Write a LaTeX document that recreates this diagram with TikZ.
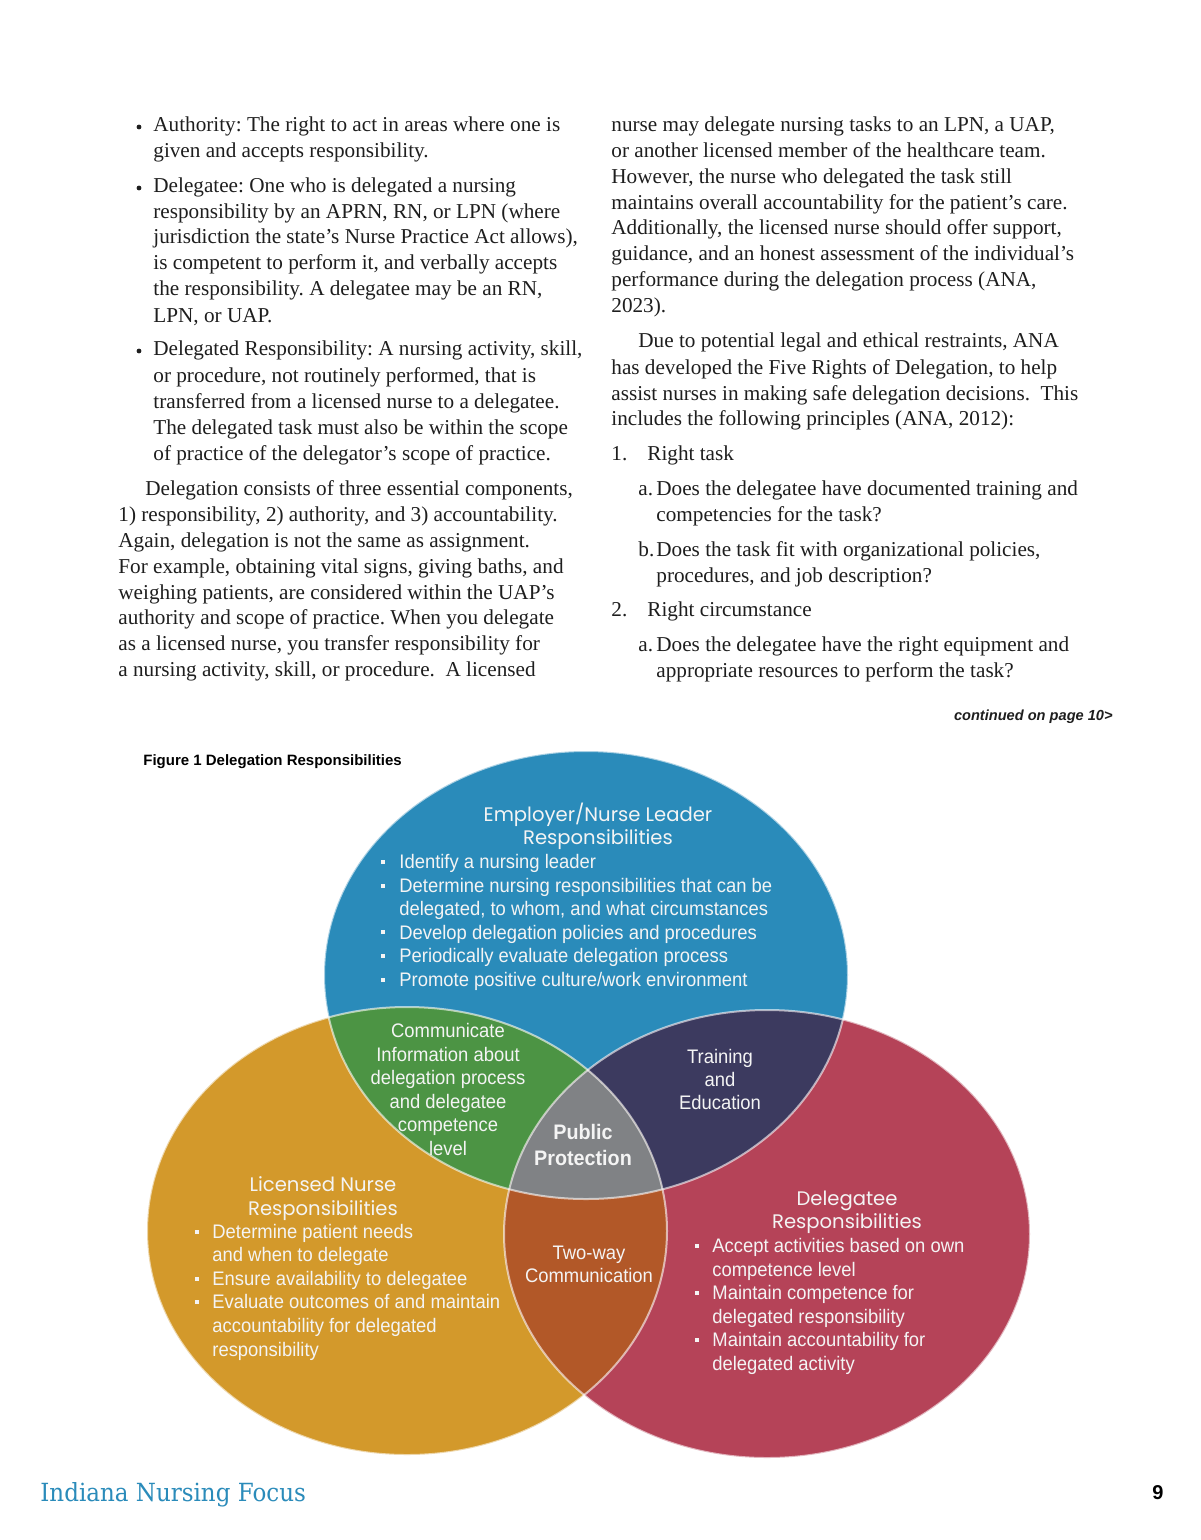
\documentclass[tikz,border=0pt]{standalone}
\usepackage{fontspec}
\setmainfont{Liberation Serif}
\newfontfamily\vsans[FakeStretch=0.94]{Liberation Sans}
\newfontfamily\vhead{Poppins}
\newfontfamily\plainsans{Liberation Sans}
\newfontfamily\mastfont[FakeStretch=0.92]{DejaVu Serif}
\frenchspacing
\definecolor{ink}{HTML}{1E1E1E}
\definecolor{cblue}{HTML}{2A8BBA}
\definecolor{corange}{HTML}{D3992B}
\definecolor{cred}{HTML}{B54358}
\definecolor{cgreen}{HTML}{4C9444}
\definecolor{cnavy}{HTML}{3C3A5F}
\definecolor{cgrey}{HTML}{808285}
\definecolor{cbrown}{HTML}{B25828}
\definecolor{vwhite}{HTML}{F4F4F4}
\definecolor{mast}{HTML}{2A8BBA}
\tikzset{
  body/.style={anchor=base west, inner sep=0pt, text=ink, font=\fontsize{10.6}{13}\selectfont},
  bdot/.style={circle, fill=ink, inner sep=0pt, minimum size=2.4pt},
  vtxt/.style={inner sep=0pt, text=vwhite, font=\vsans\fontsize{9.8}{11.75}\selectfont},
  vc/.style={vtxt, anchor=base},
  vl/.style={vtxt, anchor=base west},
  vbold/.style={vtxt, anchor=base, font=\vsans\bfseries\fontsize{10.5}{12}\selectfont},
  vhd/.style={anchor=base, inner sep=0pt, text=vwhite, font=\vhead\fontsize{9.8}{12}\selectfont},
  sqb/.style={rectangle, fill=vwhite, inner sep=0pt, minimum size=2pt},
  vline/.style={draw=white, draw opacity=0.6, line width=1pt},
}
\begin{document}
\begin{tikzpicture}[x=0.5pt,y=-0.5pt]
\useasboundingbox (0,0) rectangle (1200,1540);
\fill[white] (0,0) rectangle (1200,1540);

% ---------- left column ----------
\node[bdot] (d1) at (139,127) {};
\node[body] (l1) at (153,132) {Authority: The right to act in areas where one is};
\node[body] (l2) at (153,158) {given and accepts responsibility.};
\node[bdot] (d2) at (139,188) {};
\node[body] (l3) at (153,193) {Delegatee: One who is delegated a nursing};
\node[body] (l4) at (153,219) {responsibility by an APRN, RN, or LPN (where};
\node[body] (l5) at (153,244) {jurisdiction the state’s Nurse Practice Act allows),};
\node[body] (l6) at (153,270) {is competent to perform it, and verbally accepts};
\node[body] (l7) at (153,296) {the responsibility. A delegatee may be an RN,};
\node[body] (l8) at (153,322) {LPN, or UAP.};
\node[bdot] (d3) at (139,351) {};
\node[body] (l9) at (153,356) {Delegated Responsibility: A nursing activity, skill,};
\node[body] (l10) at (153,382) {or procedure, not routinely performed, that is};
\node[body] (l11) at (153,408) {transferred from a licensed nurse to a delegatee.};
\node[body] (l12) at (153,434) {The delegated task must also be within the scope};
\node[body] (l13) at (153,460) {of practice of the delegator’s scope of practice.};
\node[body] (l14) at (145,495) {Delegation consists of three essential components,};
\node[body] (l15) at (118,521) {1) responsibility, 2) authority, and 3) accountability.};
\node[body] (l16) at (118,547) {Again, delegation is not the same as assignment.};
\node[body] (l17) at (118,573) {For example, obtaining vital signs, giving baths, and};
\node[body] (l18) at (118,599) {weighing patients, are considered within the UAP’s};
\node[body] (l19) at (118,624) {authority and scope of practice. When you delegate};
\node[body] (l20) at (118,650) {as a licensed nurse, you transfer responsibility for};
\node[body] (l21) at (118,676) {a nursing activity, skill, or procedure.\ \ A licensed};

% ---------- right column ----------
\node[body] (r1) at (611,132) {nurse may delegate nursing tasks to an LPN, a UAP,};
\node[body] (r2) at (611,158) {or another licensed member of the healthcare team.};
\node[body] (r3) at (611,184) {However, the nurse who delegated the task still};
\node[body] (r4) at (611,210) {maintains overall accountability for the patient’s care.};
\node[body] (r5) at (611,235) {Additionally, the licensed nurse should offer support,};
\node[body] (r6) at (611,261) {guidance, and an honest assessment of the individual’s};
\node[body] (r7) at (611,287) {performance during the delegation process (ANA,};
\node[body] (r8) at (611,313) {2023).};
\node[body] (r9) at (638,348) {Due to potential legal and ethical restraints, ANA};
\node[body] (r10) at (611,374) {has developed the Five Rights of Delegation, to help};
\node[body] (r11) at (611,400) {assist nurses in making safe delegation decisions.\ \ This};
\node[body] (r12) at (611,425) {includes the following principles (ANA, 2012):};
\node[body] (n1) at (611,460) {1.};
\node[body] (r13) at (647,460) {Right task};
\node[body] (na) at (638,495) {a.};
\node[body] (r14) at (656,495) {Does the delegatee have documented training and};
\node[body] (r15) at (656,521) {competencies for the task?};
\node[body] (nb) at (638,556) {b.};
\node[body] (r16) at (656,556) {Does the task fit with organizational policies,};
\node[body] (r17) at (656,582) {procedures, and job description?};
\node[body] (n2) at (611,616) {2.};
\node[body] (r18) at (647,616) {Right circumstance};
\node[body] (na2) at (638,651) {a.};
\node[body] (r19) at (656,651) {Does the delegatee have the right equipment and};
\node[body] (r20) at (656,677) {appropriate resources to perform the task?};
\node[anchor=base east, inner sep=0pt, text=ink, font=\plainsans\bfseries\itshape\fontsize{7.3}{9}\selectfont] (cont) at (1113,720) {continued on page 10>};

% ---------- figure caption ----------
\node[anchor=base west, inner sep=0pt, text=black, font=\plainsans\bfseries\fontsize{7.5}{9}\selectfont] (cap) at (143,765) {Figure 1 Delegation Responsibilities};

% ---------- Venn diagram ----------
\fill[cblue] (586,975) ellipse [x radius=131pt, y radius=112pt];
\fill[corange] (407,1231) ellipse [x radius=130pt, y radius=112pt];
\fill[cred] (767,1234) ellipse [x radius=131.5pt, y radius=112pt];
\begin{scope}
  \clip (586,975) ellipse [x radius=131pt, y radius=112pt];
  \fill[cgreen] (407,1231) ellipse [x radius=130pt, y radius=112pt];
  \fill[cnavy] (767,1234) ellipse [x radius=131.5pt, y radius=112pt];
\end{scope}
\begin{scope}
  \clip (407,1231) ellipse [x radius=130pt, y radius=112pt];
  \fill[cbrown] (767,1234) ellipse [x radius=131.5pt, y radius=112pt];
\end{scope}
\begin{scope}
  \clip (586,975) ellipse [x radius=131pt, y radius=112pt];
  \clip (407,1231) ellipse [x radius=130pt, y radius=112pt];
  \fill[cgrey] (767,1234) ellipse [x radius=131.5pt, y radius=112pt];
\end{scope}
\draw[vline] (586,975) ellipse [x radius=131pt, y radius=112pt];
\draw[vline] (407,1231) ellipse [x radius=130pt, y radius=112pt];
\draw[vline] (767,1234) ellipse [x radius=131.5pt, y radius=112pt];

% blue: employer
\node[vhd] (bh1) at (598,821) {Employer/Nurse Leader};
\node[vhd] (bh2) at (598,844) {Responsibilities};
\node[sqb] (bs1) at (383,862) {};
\node[vl] (bt1) at (399,868) {Identify a nursing leader};
\node[sqb] (bs2) at (383,886) {};
\node[vl] (bt2) at (399,892) {Determine nursing responsibilities that can be};
\node[vl] (bt3) at (399,915) {delegated, to whom, and what circumstances};
\node[sqb] (bs3) at (383,932) {};
\node[vl] (bt4) at (399,939) {Develop delegation policies and procedures};
\node[sqb] (bs4) at (383,956) {};
\node[vl] (bt5) at (399,962) {Periodically evaluate delegation process};
\node[sqb] (bs5) at (383,980) {};
\node[vl] (bt6) at (399,986) {Promote positive culture/work environment};

% green
\node[vc] (g1) at (448,1037) {Communicate};
\node[vc] (g2) at (448,1061) {Information about};
\node[vc] (g3) at (448,1084) {delegation process};
\node[vc] (g4) at (448,1108) {and delegatee};
\node[vc] (g5) at (448,1131) {competence};
\node[vc] (g6) at (448,1155) {level};

% navy
\node[vc] (t1) at (720,1063) {Training};
\node[vc] (t2) at (720,1086) {and};
\node[vc] (t3) at (720,1109) {Education};

% grey
\node[vbold] (p1) at (583,1139) {Public};
\node[vbold] (p2) at (583,1165) {Protection};

% brown
\node[vc] (w1) at (589,1259) {Two-way};
\node[vc] (w2) at (589,1282) {Communication};

% orange: licensed nurse
\node[vhd] (oh1) at (323,1191) {Licensed Nurse};
\node[vhd] (oh2) at (323,1215) {Responsibilities};
\node[sqb] (os1) at (197,1232) {};
\node[vl] (ot1) at (212,1238) {Determine patient needs};
\node[vl] (ot2) at (212,1261) {and when to delegate};
\node[sqb] (os2) at (197,1279) {};
\node[vl] (ot3) at (212,1285) {Ensure availability to delegatee};
\node[sqb] (os3) at (197,1302) {};
\node[vl] (ot4) at (212,1308) {Evaluate outcomes of and maintain};
\node[vl] (ot5) at (212,1332) {accountability for delegated};
\node[vl] (ot6) at (212,1356) {responsibility};

% red: delegatee
\node[vhd] (rh1) at (847,1205) {Delegatee};
\node[vhd] (rh2) at (847,1228) {Responsibilities};
\node[sqb] (rs1) at (697,1246) {};
\node[vl] (rt1) at (712,1252) {Accept activities based on own};
\node[vl] (rt2) at (712,1276) {competence level};
\node[sqb] (rs2) at (697,1293) {};
\node[vl] (rt3) at (712,1299) {Maintain competence for};
\node[vl] (rt4) at (712,1323) {delegated responsibility};
\node[sqb] (rs3) at (697,1340) {};
\node[vl] (rt5) at (712,1346) {Maintain accountability for};
\node[vl] (rt6) at (712,1370) {delegated activity};

% ---------- footer ----------
\node[anchor=base west, inner sep=0pt, text=mast, font=\mastfont\fontsize{12.5}{14}\selectfont] (foot) at (40,1501) {Indiana Nursing Focus};
\node[anchor=base, inner sep=0pt, text=black, font=\plainsans\bfseries\fontsize{10}{12}\selectfont] (pg) at (1158,1499) {9};
\end{tikzpicture}
\end{document}
